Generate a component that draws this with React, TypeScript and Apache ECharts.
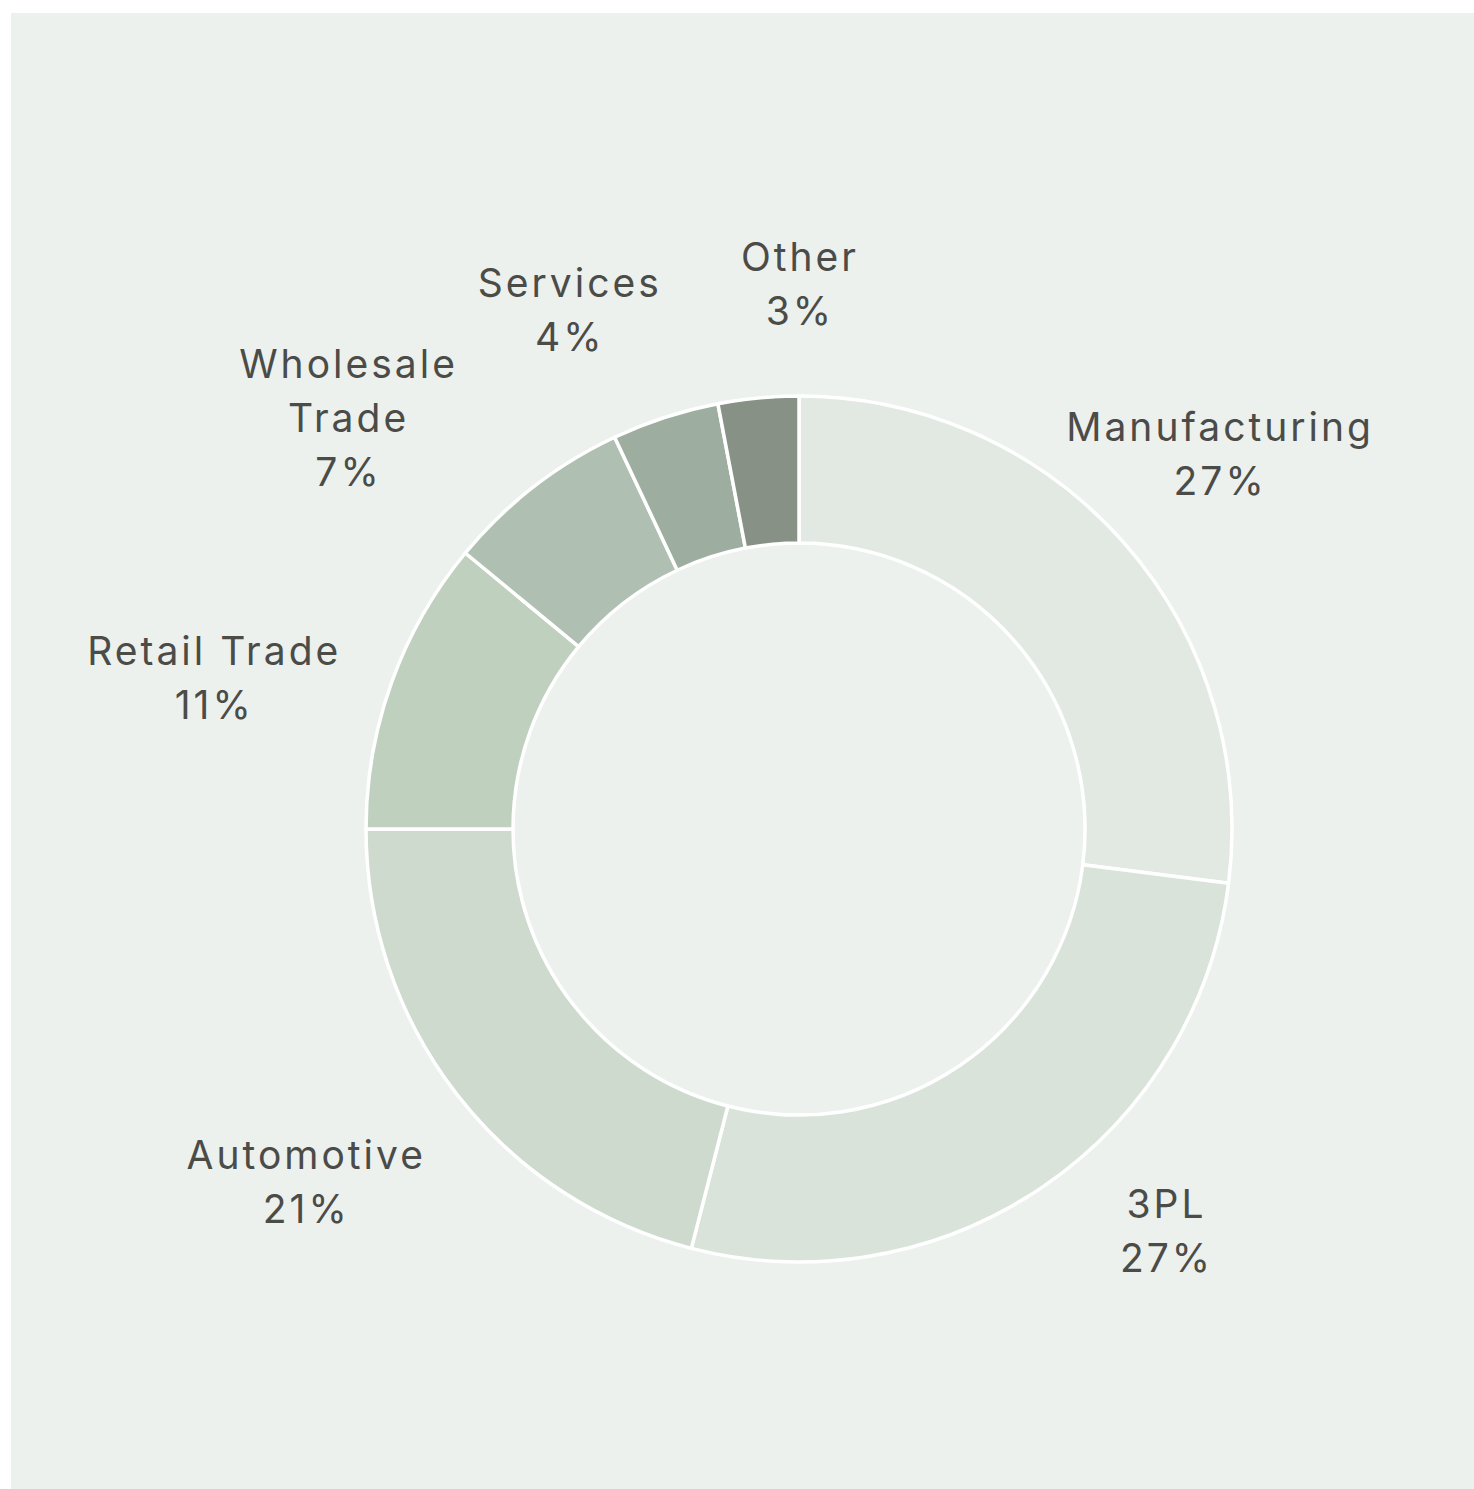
import React, { useEffect, useRef } from "react";
import * as echarts from "echarts";

const categories = [
  "Manufacturing",
  "3PL",
  "Automotive",
  "Retail Trade",
  "Wholesale Trade",
  "Services",
  "Other",
];
const shares = [27, 27, 21, 11, 7, 4, 3];
const sliceColors = [
  "#E2E9E3",
  "#D9E3DA",
  "#CFDACF",
  "#BFD0BF",
  "#AFBFB1",
  "#9DAD9F",
  "#879185",
];
// label placement relative to each slice's mid-angle
const labelAngleShift = [0.3, 8.3, -2.2, 5.3, 9.8, 5.8, -5.5];
const labelDistance = [564, 544, 606, 604, 610, 568, 546];

const CX = 788;
const CY = 816;
const BG = "#ECF1ED";

export default function App() {
  const ref = useRef<HTMLDivElement>(null);
  useEffect(() => {
    if (!ref.current) return;
    const chart = echarts.init(ref.current, null, { renderer: "svg" });
    const total = shares.reduce((a, b) => a + b, 0);
    const cum: number[] = [];
    shares.reduce((acc, v, i) => {
      cum[i] = acc;
      return acc + v;
    }, 0);
    chart.setOption({
      animation: false,
      backgroundColor: BG,
      series: [
        {
          type: "pie",
          center: [CX, CY],
          radius: [286, 433],
          startAngle: 90,
          clockwise: true,
          avoidLabelOverlap: false,
          itemStyle: { borderColor: "#FFFFFF", borderWidth: 3.5 },
          label: {
            show: true,
            position: "outside",
            fontFamily: "Inter",
            fontSize: 39,
            lineHeight: 54,
            color: "#4B4B48",
            align: "center",
            formatter: (p: any) => {
              const name = String(p.name);
              const shown = name.length > 12 ? name.replace(" ", "\n") : name;
              return shown + "\n" + Math.round((p.value / total) * 100) + "%";
            },
          },
          labelLine: { show: false },
          labelLayout: (params: any) => {
            const i = params.dataIndex;
            const mid = 90 - ((cum[i] + shares[i] / 2) / total) * 360;
            const a = ((mid + labelAngleShift[i]) * Math.PI) / 180;
            return {
              x: CX + labelDistance[i] * Math.cos(a),
              y: CY - labelDistance[i] * Math.sin(a),
              align: "center",
              verticalAlign: "middle",
            };
          },
          emphasis: { disabled: true },
          data: categories.map((c, i) => ({
            name: c,
            value: shares[i],
            itemStyle: { color: sliceColors[i] },
          })),
        },
      ],
    });
    return () => chart.dispose();
  }, []);
  return (
    <>
      <style>{"#donut-chart text { letter-spacing: 3px; }"}</style>
      <div
        id="donut-chart"
        ref={ref}
        style={{
          position: "fixed",
          left: 11,
          top: 13,
          width: 1463,
          height: 1476,
          background: BG,
        }}
      />
    </>
  );
}
